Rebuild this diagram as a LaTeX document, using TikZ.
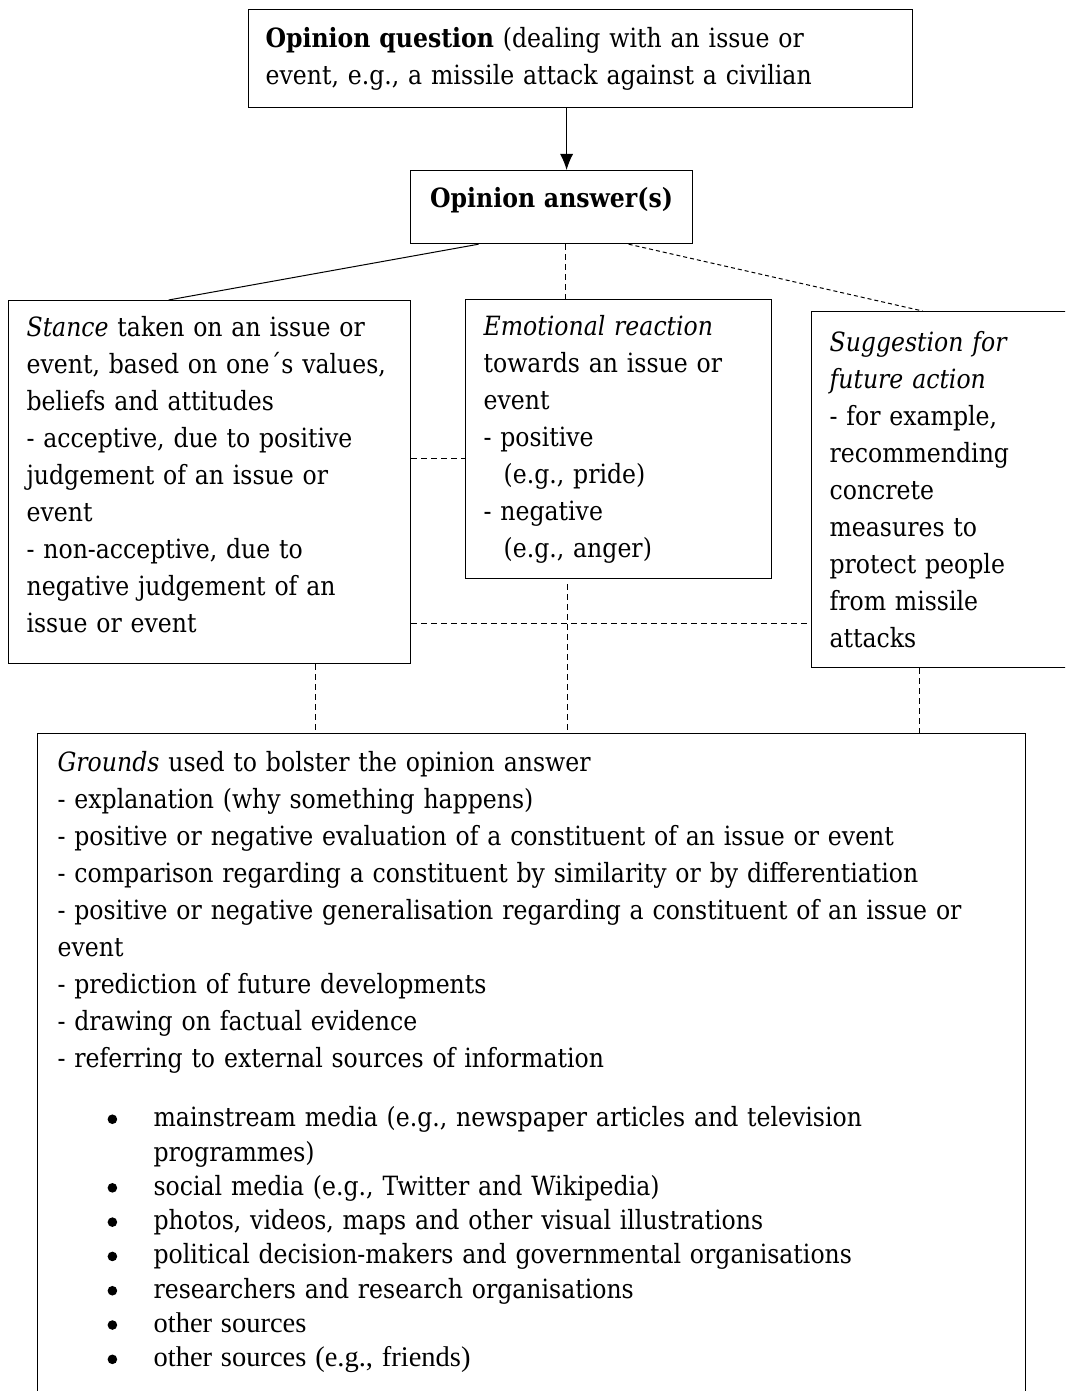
\documentclass[tikz,border=0pt]{standalone}
\usepackage{fontspec}
\setmainfont{DejaVu Serif}[FakeStretch=0.89]
\newfontfamily\timesfont{Liberation Serif}
\usetikzlibrary{arrows.meta,positioning}

\tikzset{
  opbox/.style={draw,line width=1.2pt,rectangle,align=left,anchor=north west,
    inner xsep=18pt,inner ysep=8pt,font=\fontsize{26.5}{37}\selectfont},
  link/.style={line width=1pt},
  dashlink/.style={line width=1pt,dash pattern=on 6pt off 4pt},
  denselink/.style={line width=1pt,dash pattern=on 4pt off 3pt}
}
\newcommand{\srcdot}{\tikz[baseline=-7.5pt]\fill (0pt,0pt) circle (4.8pt);}
\newcommand{\srcitem}[1]{\hspace*{50pt}\makebox[46pt][l]{\srcdot}#1}

\begin{document}
\begin{tikzpicture}[x=1pt,y=-1pt]
  \useasboundingbox (0,0) rectangle (1065,1391);
  \clip (0,0) rectangle (1065,1391);
  % boxes
  \node[opbox,inner xsep=17pt,text width=630pt,minimum height=98pt] (quest) at (248,9)
    {\textbf{Opinion question} (dealing with an issue or\\
     event, e.g., a missile attack against a civilian};
  \node[opbox,align=center,text width=246pt,minimum height=73pt,text depth=20pt] (answ) at (410,170)
    {\textbf{Opinion answer(s)}};
  \node[opbox,text width=366pt,minimum height=363pt] (stance) at (8,300)
    {\textit{Stance} taken on an issue or\\
     event, based on one´s values,\\
     beliefs and attitudes\\
     - acceptive, due to positive\\
     judgement of an issue or\\
     event\\
     - non-acceptive, due to\\
     negative judgement of an\\
     issue or event\\[-22pt]\mbox{}};
  \node[opbox,text width=270pt,minimum height=279pt] (emot) at (465,299)
    {\textit{Emotional reaction}\\
     towards an issue or\\
     event\\
     - positive\\
     \hspace*{20pt}(e.g., pride)\\
     - negative\\
     \hspace*{20pt}(e.g., anger)};
  \node[opbox,text width=224pt,minimum height=356pt] (sugg) at (811,311)
    {\textit{Suggestion for}\\
     \textit{future action}\\
     - for example,\\
     recommending\\
     concrete\\
     measures to\\
     protect people\\
     from missile\\
     attacks};
  \node[opbox,inner xsep=20pt,inner ysep=18pt,text width=948pt] (grnd) at (37,733)
    {\textit{Grounds} used to bolster the opinion answer\\
     - explanation (why something happens)\\
     - positive or negative evaluation of a constituent of an issue or event\\
     - comparison regarding a constituent by similarity or by differentiation\\
     - positive or negative generalisation regarding a constituent of an issue or\\
     event\\
     - prediction of future developments\\
     - drawing on factual evidence\\
     - referring to external sources of information\\[22pt]
     \srcitem{mainstream media (e.g., newspaper articles and television}\\[-2.7pt]
     \hspace*{96pt}programmes)\\[-2.7pt]
     \srcitem{social media (e.g., Twitter and Wikipedia)}\\[-2.7pt]
     \srcitem{photos, videos, maps and other visual illustrations}\\[-2.7pt]
     \srcitem{political decision-makers and governmental organisations}\\[-2.7pt]
     \srcitem{researchers and research organisations}\\[-2.7pt]
     \srcitem{{\timesfont\fontsize{28.5}{34}\selectfont other sources}}\\[-2.7pt]
     \srcitem{{\timesfont\fontsize{28.5}{34}\selectfont other sources (e.g., friends)}}\\[40pt]
     \mbox{}};
  % connectors
  \draw[-{Latex[length=16pt,width=13pt]},link] ([xshift=15pt]answ.north |- quest.south) -- ([xshift=15pt]answ.north);
  \draw[link] ([xshift=-73pt]answ.south) -- ([xshift=-41pt]stance.north);
  \draw[dashlink] ([xshift=14pt]answ.south) -- ([xshift=14pt]answ.south |- emot.north);
  \draw[denselink] ([xshift=77pt]answ.south) -- ([xshift=-19pt]sugg.north);
  \draw[dashlink] ([yshift=24pt]stance.east) -- ([yshift=24pt]stance.east -| emot.west);
  \draw[dashlink] ([yshift=-141.5pt]stance.east) -- ([yshift=-141.5pt]stance.east -| sugg.west);
  \draw[dashlink] ([xshift=-51pt,yshift=-5pt]emot.south) -- ([xshift=-51pt]emot.south |- grnd.north);
  \draw[dashlink] ([xshift=106pt]stance.south) -- ([xshift=106pt]stance.south |- grnd.north);
  \draw[dashlink] ([xshift=-22pt]sugg.south) -- ([xshift=-22pt]sugg.south |- grnd.north);
\end{tikzpicture}
\end{document}
